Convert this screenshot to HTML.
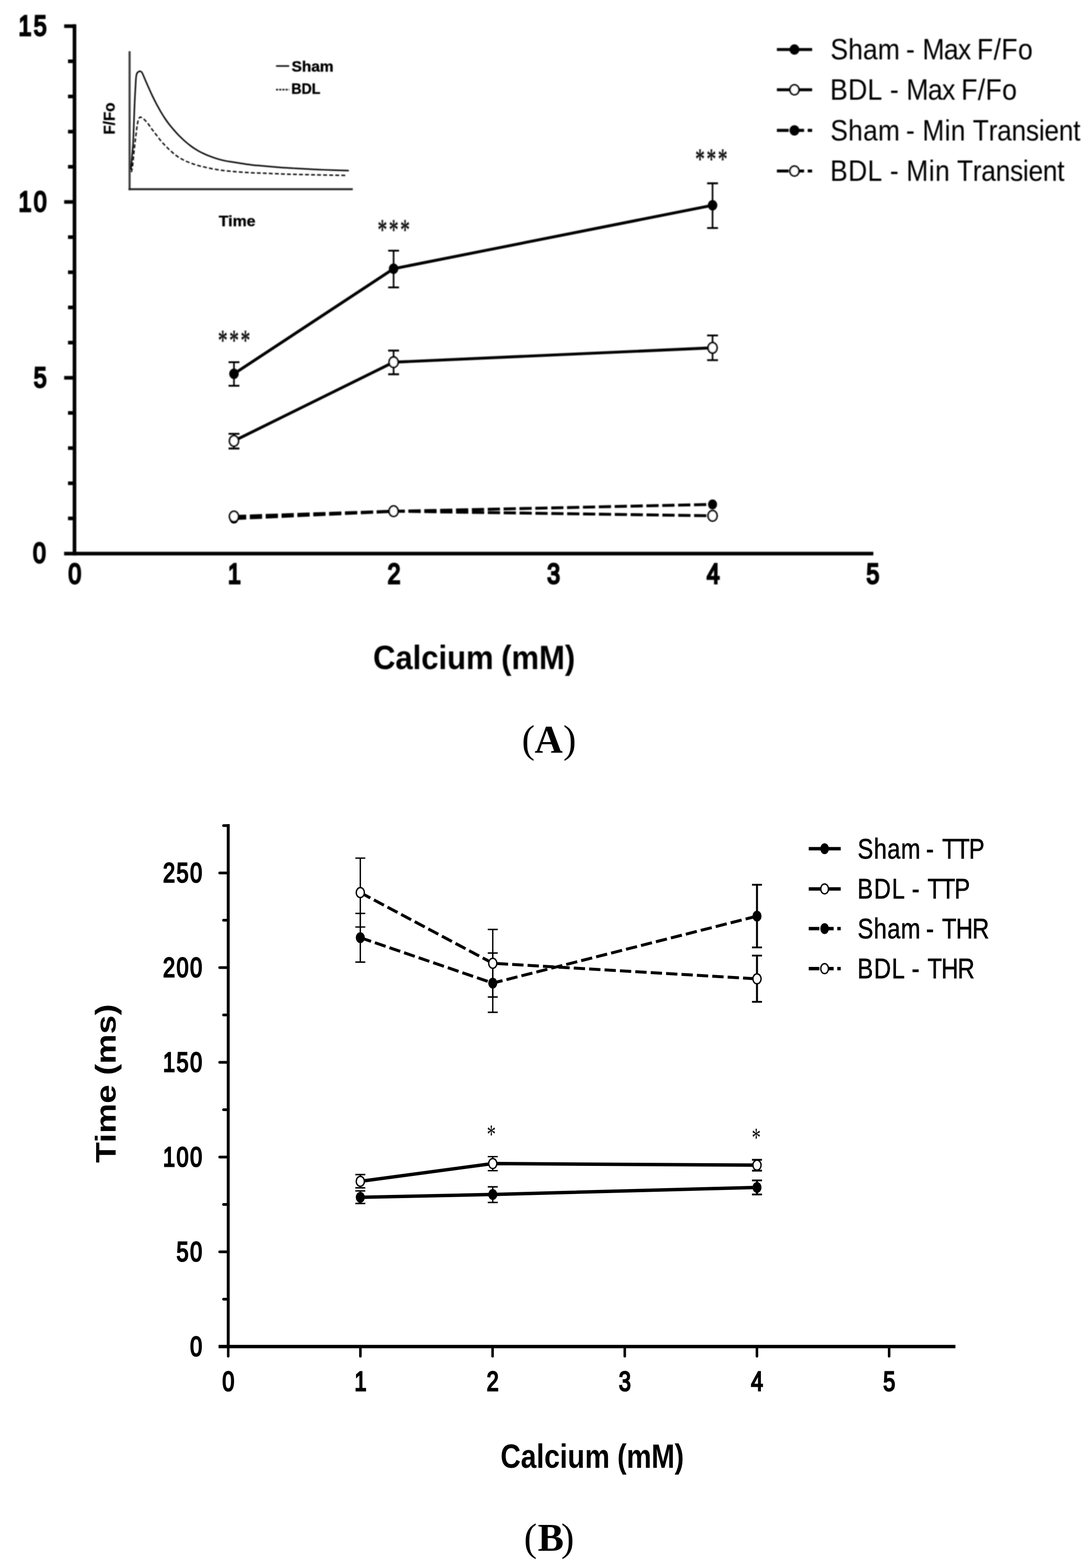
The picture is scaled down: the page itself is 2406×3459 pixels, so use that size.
<!DOCTYPE html>
<html lang="en"><head><meta charset="utf-8"><title>Calcium transients: Sham vs BDL</title>
<style>
html,body{margin:0;padding:0;background:#fff}
body{width:2406px;height:3459px;overflow:hidden}
svg{display:block}
.sa{font-family:"Liberation Sans",Arial,Helvetica,sans-serif}
.se{font-family:"Liberation Serif","Times New Roman",serif}
.b{font-weight:bold}
.nk{font-kerning:none}
text{fill:#000}
g.s{stroke:#000;fill:none}
</style></head><body>
<svg width="2406" height="3459" viewBox="0 0 2406 3459">
<rect width="2406" height="3459" fill="#fff"/>
<defs><filter id="soft" x="-2%" y="-2%" width="104%" height="104%"><feGaussianBlur stdDeviation="0.9"/></filter></defs>
<g id="chartA" filter="url(#soft)">
<g class="s">
<line x1="164.3" y1="53.6" x2="164.3" y2="1225.2" stroke-width="8" />
<line x1="141.4" y1="1221.2" x2="1926" y2="1221.2" stroke-width="8" />
<line x1="150" y1="1143.6" x2="164.3" y2="1143.6" stroke-width="8" />
<line x1="150" y1="1066.1" x2="164.3" y2="1066.1" stroke-width="8" />
<line x1="150" y1="988.5" x2="164.3" y2="988.5" stroke-width="8" />
<line x1="150" y1="910.9" x2="164.3" y2="910.9" stroke-width="8" />
<line x1="141.5" y1="833.4" x2="164.3" y2="833.4" stroke-width="8" />
<line x1="150" y1="755.8" x2="164.3" y2="755.8" stroke-width="8" />
<line x1="150" y1="678.2" x2="164.3" y2="678.2" stroke-width="8" />
<line x1="150" y1="600.6" x2="164.3" y2="600.6" stroke-width="8" />
<line x1="150" y1="523.1" x2="164.3" y2="523.1" stroke-width="8" />
<line x1="141.5" y1="445.5" x2="164.3" y2="445.5" stroke-width="8" />
<line x1="150" y1="367.9" x2="164.3" y2="367.9" stroke-width="8" />
<line x1="150" y1="290.4" x2="164.3" y2="290.4" stroke-width="8" />
<line x1="150" y1="212.8" x2="164.3" y2="212.8" stroke-width="8" />
<line x1="150" y1="135.2" x2="164.3" y2="135.2" stroke-width="8" />
<line x1="141.5" y1="57.7" x2="164.3" y2="57.7" stroke-width="8" />
<path d="M516 799V851" stroke-width="3.6"/>
<path d="M504 799H528M504 851H528" stroke-width="4.2"/>
<path d="M868 553V634" stroke-width="3.6"/>
<path d="M856 553H880M856 634H880" stroke-width="4.2"/>
<path d="M1571.4 404.3V503" stroke-width="3.6"/>
<path d="M1559.4 404.3H1583.4M1559.4 503H1583.4" stroke-width="4.2"/>
<path d="M516 957V989.3" stroke-width="3.6"/>
<path d="M504 957H528M504 989.3H528" stroke-width="4.2"/>
<path d="M868 773.3V825.6" stroke-width="3.6"/>
<path d="M856 773.3H880M856 825.6H880" stroke-width="4.2"/>
<path d="M1571.4 740V794.5" stroke-width="3.6"/>
<path d="M1559.4 740H1583.4M1559.4 794.5H1583.4" stroke-width="4.2"/>
<path d="M516 824.6L868 592.8L1571.4 452.8" stroke-width="6.4" />
<path d="M516 972.7L868 799L1571.4 767.3" stroke-width="6.4" />
<path d="M516 1144L868 1128L1571.4 1112.7" stroke-width="6.4" stroke-dasharray="27 8" />
<path d="M516 1139.3L868 1127.7L1571.4 1137.8" stroke-width="6.4" stroke-dasharray="27 8" />
<ellipse cx="516" cy="824.6" rx="10.5" ry="11.5" fill="#000" stroke="none"/>
<ellipse cx="868" cy="592.8" rx="10.5" ry="11.5" fill="#000" stroke="none"/>
<ellipse cx="1571.4" cy="452.8" rx="10.5" ry="11.5" fill="#000" stroke="none"/>
<ellipse cx="516" cy="972.7" rx="9.9" ry="11.5" fill="#fff" stroke="#000" stroke-width="3.8"/>
<ellipse cx="868" cy="799" rx="9.9" ry="11.5" fill="#fff" stroke="#000" stroke-width="3.8"/>
<ellipse cx="1571.4" cy="767.3" rx="9.9" ry="11.5" fill="#fff" stroke="#000" stroke-width="3.8"/>
<ellipse cx="516" cy="1144" rx="10" ry="11" fill="#000" stroke="none"/>
<ellipse cx="868" cy="1128" rx="10" ry="11" fill="#000" stroke="none"/>
<ellipse cx="1571.4" cy="1112.7" rx="10" ry="11" fill="#000" stroke="none"/>
<ellipse cx="516" cy="1139.3" rx="9.9" ry="11.5" fill="#fff" stroke="#000" stroke-width="3.8"/>
<ellipse cx="868" cy="1127.7" rx="9.9" ry="11.5" fill="#fff" stroke="#000" stroke-width="3.8"/>
<ellipse cx="1571.4" cy="1137.8" rx="9.9" ry="11.5" fill="#fff" stroke="#000" stroke-width="3.8"/>
<path d="M1713.3 109.2L1791 109.2" stroke-width="6.6" />
<ellipse cx="1752" cy="109.2" rx="10.8" ry="11.4" fill="#000" stroke="none"/>
<path d="M1713.3 198L1791 198" stroke-width="6.6" />
<ellipse cx="1752" cy="198" rx="9.9" ry="10.9" fill="#fff" stroke="#000" stroke-width="3.8"/>
<path d="M1713.3 287.6L1791 287.6" stroke-width="6.6" stroke-dasharray="26 8" />
<ellipse cx="1752" cy="287.6" rx="10.8" ry="11.4" fill="#000" stroke="none"/>
<path d="M1713.3 377.3L1791 377.3" stroke-width="6.6" stroke-dasharray="26 8" />
<ellipse cx="1752" cy="377.3" rx="9.9" ry="10.9" fill="#fff" stroke="#000" stroke-width="3.8"/>
</g>
<text class="sa nk" transform="translate(0 131.2) scale(0.9 1)" font-size="65"><tspan x="2034.72" letter-spacing="0.18">Sham </tspan><tspan x="2219.96" letter-spacing="0.00">- </tspan><tspan x="2260.33" letter-spacing="-1.72">Max </tspan><tspan x="2394.00" letter-spacing="0.96">F/Fo</tspan></text>
<text class="sa nk" transform="translate(0 220.3) scale(0.9037 1)" font-size="65"><tspan x="2025.65" letter-spacing="0.44">BDL </tspan><tspan x="2171.59" letter-spacing="0.00">- </tspan><tspan x="2211.66" letter-spacing="-1.56">Max </tspan><tspan x="2345.67" letter-spacing="0.75">F/Fo</tspan></text>
<text class="sa nk" transform="translate(0 309.5) scale(0.8902 1)" font-size="65"><tspan x="2057.15" letter-spacing="0.78">Sham </tspan><tspan x="2244.51" letter-spacing="0.00">- </tspan><tspan x="2285.28" letter-spacing="0.82">Min </tspan><tspan x="2409.91" letter-spacing="-0.50">Transient</tspan></text>
<text class="sa nk" transform="translate(0 398.6) scale(0.8925 1)" font-size="65"><tspan x="2051.14" letter-spacing="1.19">BDL </tspan><tspan x="2198.98" letter-spacing="0.00">- </tspan><tspan x="2239.49" letter-spacing="1.32">Min </tspan><tspan x="2364.59" letter-spacing="-0.63">Transient</tspan></text>
<text class="sa" transform="translate(164.9 1287.2) scale(0.813 1)" font-size="62.7" text-anchor="middle" stroke="#000" stroke-width="4.4" stroke-linejoin="miter">0</text>
<text class="sa" transform="translate(516.9 1287.2) scale(0.813 1)" font-size="62.7" text-anchor="middle" stroke="#000" stroke-width="4.4" stroke-linejoin="miter">1</text>
<text class="sa" transform="translate(868.9 1287.2) scale(0.813 1)" font-size="62.7" text-anchor="middle" stroke="#000" stroke-width="4.4" stroke-linejoin="miter">2</text>
<text class="sa" transform="translate(1220.8999999999999 1287.2) scale(0.813 1)" font-size="62.7" text-anchor="middle" stroke="#000" stroke-width="4.4" stroke-linejoin="miter">3</text>
<text class="sa" transform="translate(1572.8999999999999 1287.2) scale(0.813 1)" font-size="62.7" text-anchor="middle" stroke="#000" stroke-width="4.4" stroke-linejoin="miter">4</text>
<text class="sa" transform="translate(1924.8999999999999 1287.2) scale(0.813 1)" font-size="62.7" text-anchor="middle" stroke="#000" stroke-width="4.4" stroke-linejoin="miter">5</text>
<text class="sa" transform="translate(106.3219 1241.3) scale(0.813 1)" font-size="62.7" text-anchor="end" stroke="#000" stroke-width="4.4" stroke-linejoin="miter" letter-spacing="6.3">0</text>
<text class="sa" transform="translate(107.9219 853.5) scale(0.813 1)" font-size="62.7" text-anchor="end" stroke="#000" stroke-width="4.4" stroke-linejoin="miter" letter-spacing="6.3">5</text>
<text class="sa" transform="translate(107.9219 465.6) scale(0.813 1)" font-size="62.7" text-anchor="end" stroke="#000" stroke-width="4.4" stroke-linejoin="miter" letter-spacing="6.3">10</text>
<text class="sa" transform="translate(107.9219 77.80000000000001) scale(0.813 1)" font-size="62.7" text-anchor="end" stroke="#000" stroke-width="4.4" stroke-linejoin="miter" letter-spacing="6.3">15</text>
<text class="sa b nk" transform="translate(0 1476.4) scale(0.9112 1)" font-size="75"><tspan x="902.98" letter-spacing="-0.02">Calcium </tspan><tspan x="1213.01" letter-spacing="0.04">(mM)</tspan></text>
<text class="se" transform="translate(518.2 771.6) scale(0.84 1.26)" font-size="50" text-anchor="middle" fill="#2b2b2b" stroke="#2b2b2b" stroke-width="1.1" letter-spacing="4.8">***</text>
<text class="se" transform="translate(870.2 527.6) scale(0.84 1.26)" font-size="50" text-anchor="middle" fill="#2b2b2b" stroke="#2b2b2b" stroke-width="1.1" letter-spacing="4.8">***</text>
<text class="se" transform="translate(1570.7 371.6) scale(0.84 1.26)" font-size="50" text-anchor="middle" fill="#2b2b2b" stroke="#2b2b2b" stroke-width="1.1" letter-spacing="4.8">***</text>
<g class="s" style="stroke:#333">
<path d="M285.8 113V419.6" stroke-width="4.6" style="stroke:#3a3a3a"/>
<path d="M283.5 417.4H778" stroke-width="4.2" style="stroke:#222"/>
<path d="M288.8 374.2C289.2 369.5 290.3 355.4 291.0 346.0C291.8 336.6 292.8 328.8 293.5 317.9C294.1 306.9 294.5 292.8 295.0 280.3C295.5 267.8 295.8 254.6 296.3 242.7C296.8 230.8 297.3 218.3 297.8 208.9C298.3 199.5 298.7 192.8 299.1 186.4C299.5 179.9 299.6 174.3 300.1 170.4C300.5 166.5 300.8 164.8 301.6 162.9C302.3 160.9 303.6 159.5 304.8 158.6C305.9 157.6 307.4 157.2 308.5 157.2C309.7 157.2 310.8 157.8 311.7 158.6C312.6 159.3 312.8 159.2 314.1 161.9C315.5 164.7 317.7 170.4 319.8 175.1C321.8 179.8 323.7 184.2 326.4 190.1C329.0 196.1 332.6 204.2 335.7 210.8C338.9 217.4 342.0 223.6 345.1 229.6C348.3 235.5 351.4 241.1 354.5 246.5C357.7 251.8 360.8 256.8 363.9 261.5C367.1 266.2 370.2 270.6 373.3 274.6C376.5 278.7 379.6 282.3 382.7 285.9C385.8 289.5 389.0 293.0 392.1 296.3C395.2 299.5 398.4 302.7 401.5 305.6C404.6 308.6 407.8 311.4 410.9 314.1C414.0 316.8 417.2 319.3 420.3 321.6C423.4 324.0 426.5 326.2 429.7 328.2C432.8 330.2 435.9 332.1 439.1 333.8C442.2 335.5 445.3 337.0 448.5 338.5C451.6 340.0 453.2 340.8 457.9 342.7C462.5 344.5 470.4 347.4 476.6 349.4C482.9 351.4 489.2 353.1 495.4 354.5C501.7 355.9 507.9 356.6 514.2 357.7C520.5 358.7 526.7 359.7 533.0 360.7C539.3 361.6 545.6 362.6 551.8 363.3C557.9 364.1 558.9 364.2 570.0 365.2C581.1 366.2 602.4 368.1 618.3 369.3C634.2 370.5 649.6 371.2 665.2 372.1C680.9 373.0 694.9 373.8 712.2 374.5C729.6 375.2 759.8 376.1 769.3 376.4" stroke-width="3.2" style="stroke:#000"/>
<path d="M289.7 379.8C290.2 377.3 291.4 373.6 292.5 364.8C293.6 356.1 295.0 338.8 296.3 327.2C297.6 315.7 299.0 304.1 300.1 295.3C301.2 286.5 301.9 280.1 302.9 274.6C303.8 269.2 304.6 265.2 305.7 262.4C306.8 259.7 308.0 258.6 309.4 258.3C310.9 258.0 312.6 259.6 314.1 260.6C315.7 261.6 316.8 262.3 318.8 264.3C320.9 266.4 323.5 269.2 326.4 272.8C329.2 276.4 332.6 281.7 335.7 285.9C338.9 290.1 342.0 294.1 345.1 298.1C348.3 302.2 351.4 306.6 354.5 310.3C357.7 314.1 360.8 317.4 363.9 320.7C367.1 324.0 370.2 327.1 373.3 330.1C376.5 333.0 379.6 335.9 382.7 338.5C385.8 341.1 389.0 343.5 392.1 345.7C395.2 347.8 398.4 349.6 401.5 351.3C404.6 353.0 407.8 354.6 410.9 356.0C414.0 357.4 417.2 358.4 420.3 359.6C423.4 360.7 426.5 361.9 429.7 362.9C432.8 364.0 434.4 364.6 439.1 365.8C443.8 366.9 451.6 368.7 457.9 370.1C464.1 371.4 470.4 372.8 476.6 373.8C482.9 374.9 489.2 375.7 495.4 376.5C501.7 377.2 507.9 377.8 514.2 378.3C520.5 378.9 526.7 379.4 533.0 379.8C539.3 380.3 545.6 380.7 551.8 381.0C557.9 381.3 564.1 381.5 570.0 381.7C575.9 381.9 576.4 381.9 587.0 382.3C597.6 382.7 615.6 383.6 633.9 384.2C652.1 384.8 674.8 385.2 696.5 385.7C718.2 386.2 752.7 386.8 763.9 387.0" stroke-width="3" stroke-dasharray="8.5 4.8" style="stroke:#000"/>
<path d="M608.8 145.6H637.7" stroke-width="3.4" style="stroke:#111"/>
<path d="M608.8 197.8H637.7" stroke-width="3.4" stroke-dasharray="4.5 2.5" style="stroke:#111"/>
</g>
<text class="sa b" transform="translate(643 157.6) scale(1.0 1)" font-size="34" text-anchor="start" fill="#1a1a1a" stroke="#1a1a1a" stroke-width="0.7">Sham</text>
<text class="sa b" transform="translate(642.5 207.2) scale(0.917 1)" font-size="34" text-anchor="start" fill="#1a1a1a" stroke="#1a1a1a" stroke-width="0.7">BDL</text>
<text class="sa b" transform="translate(523 498.8) scale(1.027 1)" font-size="34" text-anchor="middle" fill="#1a1a1a" stroke="#1a1a1a" stroke-width="0.7">Time</text>
<text class="sa b" transform="translate(252.5 261.5) rotate(-90) scale(0.93 1)" font-size="36" text-anchor="middle" fill="#1a1a1a" stroke="#1a1a1a" stroke-width="0.7">F/Fo</text>
</g>
<text class="se" y="1660" font-size="86"><tspan x="1150.7">(</tspan><tspan class="b" x="1179">A</tspan><tspan x="1242">)</tspan></text>
<g id="chartB">
<g class="s">
<line x1="503.3" y1="1818" x2="503.3" y2="2974.1" stroke-width="6.5" />
<line x1="482" y1="2970.4" x2="2107" y2="2970.4" stroke-width="7.5" />
<line x1="493" y1="2865.9" x2="503.3" y2="2865.9" stroke-width="6" stroke-linecap="round"/>
<line x1="484.5" y1="2761.5" x2="503.3" y2="2761.5" stroke-width="6" stroke-linecap="round"/>
<line x1="493" y1="2657.0" x2="503.3" y2="2657.0" stroke-width="6" stroke-linecap="round"/>
<line x1="484.5" y1="2552.5" x2="503.3" y2="2552.5" stroke-width="6" stroke-linecap="round"/>
<line x1="493" y1="2448.0" x2="503.3" y2="2448.0" stroke-width="6" stroke-linecap="round"/>
<line x1="484.5" y1="2343.6" x2="503.3" y2="2343.6" stroke-width="6" stroke-linecap="round"/>
<line x1="493" y1="2239.1" x2="503.3" y2="2239.1" stroke-width="6" stroke-linecap="round"/>
<line x1="484.5" y1="2134.6" x2="503.3" y2="2134.6" stroke-width="6" stroke-linecap="round"/>
<line x1="493" y1="2030.1" x2="503.3" y2="2030.1" stroke-width="6" stroke-linecap="round"/>
<line x1="484.5" y1="1925.7" x2="503.3" y2="1925.7" stroke-width="6" stroke-linecap="round"/>
<line x1="493" y1="1821.2" x2="503.3" y2="1821.2" stroke-width="6" stroke-linecap="round"/>
<line x1="503.3" y1="2970.4" x2="503.3" y2="2992" stroke-width="5.6" stroke-linecap="round"/>
<line x1="794.8" y1="2970.4" x2="794.8" y2="2992" stroke-width="5.6" stroke-linecap="round"/>
<line x1="1086.3" y1="2970.4" x2="1086.3" y2="2992" stroke-width="5.6" stroke-linecap="round"/>
<line x1="1377.8" y1="2970.4" x2="1377.8" y2="2992" stroke-width="5.6" stroke-linecap="round"/>
<line x1="1669.3" y1="2970.4" x2="1669.3" y2="2992" stroke-width="5.6" stroke-linecap="round"/>
<line x1="1960.8" y1="2970.4" x2="1960.8" y2="2992" stroke-width="5.6" stroke-linecap="round"/>
<path d="M794.6 1893V2045" stroke-width="3"/>
<path d="M783.6 1893H805.6M783.6 2045H805.6" stroke-width="3.2"/>
<path d="M1086.7 2050.4V2199.4" stroke-width="3"/>
<path d="M1075.7 2050.4H1097.7M1075.7 2199.4H1097.7" stroke-width="3.2"/>
<path d="M1669.4 2108V2210" stroke-width="4.4"/>
<path d="M1658.4 2108H1680.4M1658.4 2210H1680.4" stroke-width="4"/>
<path d="M794.6 2015V2122.4" stroke-width="3"/>
<path d="M783.6 2015H805.6M783.6 2122.4H805.6" stroke-width="3.2"/>
<path d="M1086.7 2102.3V2233.2" stroke-width="3"/>
<path d="M1075.7 2102.3H1097.7M1075.7 2233.2H1097.7" stroke-width="3.2"/>
<path d="M1669.4 1951.8V2090.1" stroke-width="4.4"/>
<path d="M1658.4 1951.8H1680.4M1658.4 2090.1H1680.4" stroke-width="4"/>
<path d="M794.6 2591.2V2620.4" stroke-width="3"/>
<path d="M783.6 2591.2H805.6M783.6 2620.4H805.6" stroke-width="3.2"/>
<path d="M1086.7 2551.5V2582.5" stroke-width="3"/>
<path d="M1075.7 2551.5H1097.7M1075.7 2582.5H1097.7" stroke-width="3.2"/>
<path d="M1669.4 2558.4V2582.5" stroke-width="4.4"/>
<path d="M1658.4 2558.4H1680.4M1658.4 2582.5H1680.4" stroke-width="4"/>
<path d="M794.6 2627.2V2654.8" stroke-width="3"/>
<path d="M783.6 2627.2H805.6M783.6 2654.8H805.6" stroke-width="3.2"/>
<path d="M1086.7 2618.2V2652.6" stroke-width="3"/>
<path d="M1075.7 2618.2H1097.7M1075.7 2652.6H1097.7" stroke-width="3.2"/>
<path d="M1669.4 2604V2635" stroke-width="4.4"/>
<path d="M1658.4 2604H1680.4M1658.4 2635H1680.4" stroke-width="4"/>
<path d="M794.6 2068.5L1086.7 2168.7L1669.4 2021" stroke-width="6.5" stroke-dasharray="25 9" />
<path d="M794.6 1969L1086.7 2124.9L1669.4 2159.3" stroke-width="6.5" stroke-dasharray="25 9" />
<path d="M794.6 2641.3L1086.7 2635L1669.4 2619.4" stroke-width="7.5" />
<path d="M794.6 2606L1086.7 2566.8L1669.4 2570.3" stroke-width="7.5" />
<ellipse cx="794.6" cy="2068.5" rx="10" ry="12" fill="#000" stroke="none"/>
<ellipse cx="1086.7" cy="2168.7" rx="10" ry="12" fill="#000" stroke="none"/>
<ellipse cx="1669.4" cy="2021" rx="10" ry="12" fill="#000" stroke="none"/>
<ellipse cx="794.6" cy="2641.3" rx="10" ry="12" fill="#000" stroke="none"/>
<ellipse cx="1086.7" cy="2635" rx="10" ry="12" fill="#000" stroke="none"/>
<ellipse cx="1669.4" cy="2619.4" rx="10" ry="12" fill="#000" stroke="none"/>
<ellipse cx="794.6" cy="1969" rx="9.0" ry="11.0" fill="#fff" stroke="#000" stroke-width="3"/>
<ellipse cx="1086.7" cy="2124.9" rx="9.0" ry="11.0" fill="#fff" stroke="#000" stroke-width="3"/>
<ellipse cx="1669.4" cy="2159.3" rx="9.0" ry="11.0" fill="#fff" stroke="#000" stroke-width="3"/>
<ellipse cx="794.6" cy="2606" rx="9.0" ry="11.0" fill="#fff" stroke="#000" stroke-width="3"/>
<ellipse cx="1086.7" cy="2566.8" rx="9.0" ry="11.0" fill="#fff" stroke="#000" stroke-width="3"/>
<ellipse cx="1669.4" cy="2570.3" rx="9.0" ry="11.0" fill="#fff" stroke="#000" stroke-width="3"/>
<path d="M1783.5 1872.3L1854 1872.3" stroke-width="7.5" />
<ellipse cx="1818.5" cy="1872.3" rx="9.5" ry="12" fill="#000" stroke="none"/>
<path d="M1783.5 1960.9L1854 1960.9" stroke-width="7.5" />
<ellipse cx="1818.5" cy="1960.9" rx="8.5" ry="11.0" fill="#fff" stroke="#000" stroke-width="3"/>
<path d="M1783.5 2048.6L1854 2048.6" stroke-width="7.5" stroke-dasharray="23.5 8" />
<ellipse cx="1818.5" cy="2048.6" rx="9.5" ry="12" fill="#000" stroke="none"/>
<path d="M1783.5 2136.8L1854 2136.8" stroke-width="7.5" stroke-dasharray="23.5 8" />
<ellipse cx="1818.5" cy="2136.8" rx="8.5" ry="11.0" fill="#fff" stroke="#000" stroke-width="3"/>
</g>
<text class="sa nk" transform="translate(0 1893.9) scale(0.8118 1)" font-size="63.5" stroke="#000" stroke-width="0.9"><tspan x="2329.71" letter-spacing="1.55">Sham </tspan><tspan x="2515.66" letter-spacing="0.00">- </tspan><tspan x="2559.30" letter-spacing="-2.33">TTP</tspan></text>
<text class="sa nk" transform="translate(0 1982) scale(0.8152 1)" font-size="63.5" stroke="#000" stroke-width="0.9"><tspan x="2319.37" letter-spacing="2.49">BDL </tspan><tspan x="2466.43" letter-spacing="0.00">- </tspan><tspan x="2509.25" letter-spacing="-2.50">TTP</tspan></text>
<text class="sa nk" transform="translate(0 2070.2) scale(0.8174 1)" font-size="63.5" stroke="#000" stroke-width="0.9"><tspan x="2313.73" letter-spacing="1.18">Sham </tspan><tspan x="2498.36" letter-spacing="0.00">- </tspan><tspan x="2541.76" letter-spacing="-1.77">THR</tspan></text>
<text class="sa nk" transform="translate(0 2158.4) scale(0.8212 1)" font-size="63.5" stroke="#000" stroke-width="0.9"><tspan x="2302.39" letter-spacing="2.05">BDL </tspan><tspan x="2448.33" letter-spacing="0.00">- </tspan><tspan x="2490.90" letter-spacing="-2.06">THR</tspan></text>
<text class="sa" transform="translate(503.6 3068) scale(0.784 1)" font-size="61" text-anchor="middle" stroke="#000" stroke-width="3.2" stroke-linejoin="miter">0</text>
<text class="sa" transform="translate(795.0999999999999 3068) scale(0.784 1)" font-size="61" text-anchor="middle" stroke="#000" stroke-width="3.2" stroke-linejoin="miter">1</text>
<text class="sa" transform="translate(1086.6 3068) scale(0.784 1)" font-size="61" text-anchor="middle" stroke="#000" stroke-width="3.2" stroke-linejoin="miter">2</text>
<text class="sa" transform="translate(1378.1 3068) scale(0.784 1)" font-size="61" text-anchor="middle" stroke="#000" stroke-width="3.2" stroke-linejoin="miter">3</text>
<text class="sa" transform="translate(1669.6 3068) scale(0.784 1)" font-size="61" text-anchor="middle" stroke="#000" stroke-width="3.2" stroke-linejoin="miter">4</text>
<text class="sa" transform="translate(1961.1 3068) scale(0.784 1)" font-size="61" text-anchor="middle" stroke="#000" stroke-width="3.2" stroke-linejoin="miter">5</text>
<text class="sa" transform="translate(449.0928 2990.8) scale(0.784 1)" font-size="61" text-anchor="end" stroke="#000" stroke-width="3.2" stroke-linejoin="miter" letter-spacing="4.2">0</text>
<text class="sa" transform="translate(449.0928 2781.9) scale(0.784 1)" font-size="61" text-anchor="end" stroke="#000" stroke-width="3.2" stroke-linejoin="miter" letter-spacing="4.2">50</text>
<text class="sa" transform="translate(449.0928 2572.9) scale(0.784 1)" font-size="61" text-anchor="end" stroke="#000" stroke-width="3.2" stroke-linejoin="miter" letter-spacing="4.2">100</text>
<text class="sa" transform="translate(449.0928 2364.0) scale(0.784 1)" font-size="61" text-anchor="end" stroke="#000" stroke-width="3.2" stroke-linejoin="miter" letter-spacing="4.2">150</text>
<text class="sa" transform="translate(449.0928 2155.0) scale(0.784 1)" font-size="61" text-anchor="end" stroke="#000" stroke-width="3.2" stroke-linejoin="miter" letter-spacing="4.2">200</text>
<text class="sa" transform="translate(449.0928 1946.1000000000001) scale(0.784 1)" font-size="61" text-anchor="end" stroke="#000" stroke-width="3.2" stroke-linejoin="miter" letter-spacing="4.2">250</text>
<text class="sa b nk" transform="translate(0 3238) scale(0.835 1)" font-size="74"><tspan x="1321.88" letter-spacing="0.10">Calcium </tspan><tspan x="1630.21" letter-spacing="-0.20">(mM)</tspan></text>
<text class="sa b" transform="translate(254.9 2390) rotate(-90) scale(1.182 1)" font-size="63" text-anchor="middle">Time (ms)</text>
<text class="se" transform="translate(1083.5 2521.5) scale(0.83 1.22)" font-size="48" text-anchor="middle">*</text>
<text class="se" transform="translate(1667.8 2529) scale(0.83 1.22)" font-size="48" text-anchor="middle">*</text>
</g>
<text class="se" y="3421.2" font-size="86"><tspan x="1155.6">(</tspan><tspan class="b" x="1186">B</tspan><tspan x="1237.6">)</tspan></text>
</svg>
</body></html>
